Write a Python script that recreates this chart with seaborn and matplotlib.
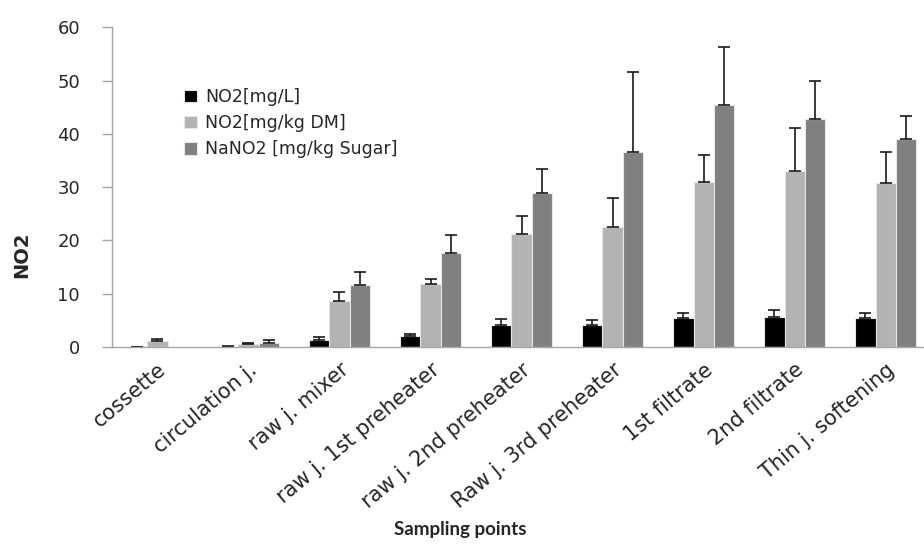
import pandas as pd
import numpy as np
import matplotlib
matplotlib.use("Agg")
import matplotlib.pyplot as plt
import seaborn as sns

categories = ["cossette", "circulation j.", "raw j. mixer", "raw j. 1st preheater",
              "raw j. 2nd preheater", "Raw j. 3rd preheater", "1st filtrate",
              "2nd filtrate", "Thin j. softening"]
series = ["NO2[mg/L]", "NO2[mg/kg DM]", "NaNO2 [mg/kg Sugar]"]

no2_l = [0.1, 0.1, 1.4, 2.0, 4.1, 4.1, 5.4, 5.7, 5.4]
no2_l_err = [0.0, 0.05, 0.5, 0.4, 1.1, 0.9, 1.0, 1.3, 1.0]
no2_dm = [1.2, 0.6, 8.7, 11.8, 21.3, 22.6, 30.9, 33.0, 30.7]
no2_dm_err = [0.3, 0.25, 1.7, 0.9, 3.3, 5.4, 5.2, 8.0, 5.9]
nano2_sugar = [np.nan, 0.85, 11.7, 17.6, 28.9, 36.5, 45.4, 42.7, 39.0]
nano2_sugar_err = [np.nan, 0.4, 2.3, 3.4, 4.5, 15.1, 10.8, 7.3, 4.4]

colors = ["#000000", "#b3b3b3", "#808080"]

values = [no2_l, no2_dm, nano2_sugar]
errors = [no2_l_err, no2_dm_err, nano2_sugar_err]

rows = []
for s, vals in zip(series, values):
    for c, v in zip(categories, vals):
        rows.append({"cat": c, "series": s, "value": v})
df = pd.DataFrame(rows)

sns.set_style("white")
plt.rcParams["font.family"] = ["DejaVu Sans"]

fig = plt.figure(figsize=(9.24, 5.44), dpi=100)
ax = fig.add_axes([0.1212, 0.362, 0.8864, 0.588])

sns.barplot(data=df, x="cat", y="value", hue="series", order=categories,
            hue_order=series, palette=dict(zip(series, colors)), width=0.66,
            errorbar=None, edgecolor="#e6e6e6", linewidth=0.8, ax=ax)

# one-sided error bars, matched to the bars by category position
bar_conts = list(ax.containers)[:3]
for cont, err in zip(bar_conts, errors):
    xs, hs, es = [], [], []
    for bar in cont:
        h = bar.get_height()
        xc = bar.get_x() + bar.get_width() / 2
        e = err[int(round(xc))]
        if np.isnan(h) or np.isnan(e):
            continue
        xs.append(xc)
        hs.append(h)
        es.append(e)
    ax.errorbar(xs, hs, yerr=[np.zeros(len(es)), es], fmt="none",
                ecolor="#1a1a1a", elinewidth=1.2, capsize=4.5, capthick=1.2)

ax.set_ylim(0, 60)
ax.set_xlim(-0.5, len(categories) - 0.5)
ax.set_yticks(range(0, 61, 10))
ax.set_xticks(range(len(categories)))
ax.set_xticks(np.arange(-0.5, len(categories)), minor=True)
ax.set_xticklabels(categories, rotation=40, ha="right", rotation_mode="anchor")
ax.tick_params(axis="x", which="major", length=0, labelsize=15, pad=9)
ax.tick_params(axis="x", which="minor", length=7, color="#a6a6a6", width=1)
ax.tick_params(axis="y", length=7, color="#a6a6a6", width=1, labelsize=13,
               left=True, pad=16)

for sp in ["top", "right"]:
    ax.spines[sp].set_visible(False)
for sp in ["left", "bottom"]:
    ax.spines[sp].set_color("#a6a6a6")
    ax.spines[sp].set_linewidth(1)

ax.set_xlabel("Sampling points", fontsize=13.5, fontweight="bold",
              family=["Lato", "DejaVu Sans"])
ax.set_ylabel("NO2", fontsize=14, fontweight="bold")
ax.xaxis.set_label_coords(0.425, -0.544)
ax.yaxis.set_label_coords(-0.098, 0.2875)

ax.legend(loc="upper left", bbox_to_anchor=(0.088, 0.81), frameon=False,
          fontsize=12.5, handlelength=0.75, handleheight=0.75, handletextpad=0.45,
          labelspacing=0.47, borderaxespad=0, borderpad=0)

fig.savefig("out.png", dpi=100)
